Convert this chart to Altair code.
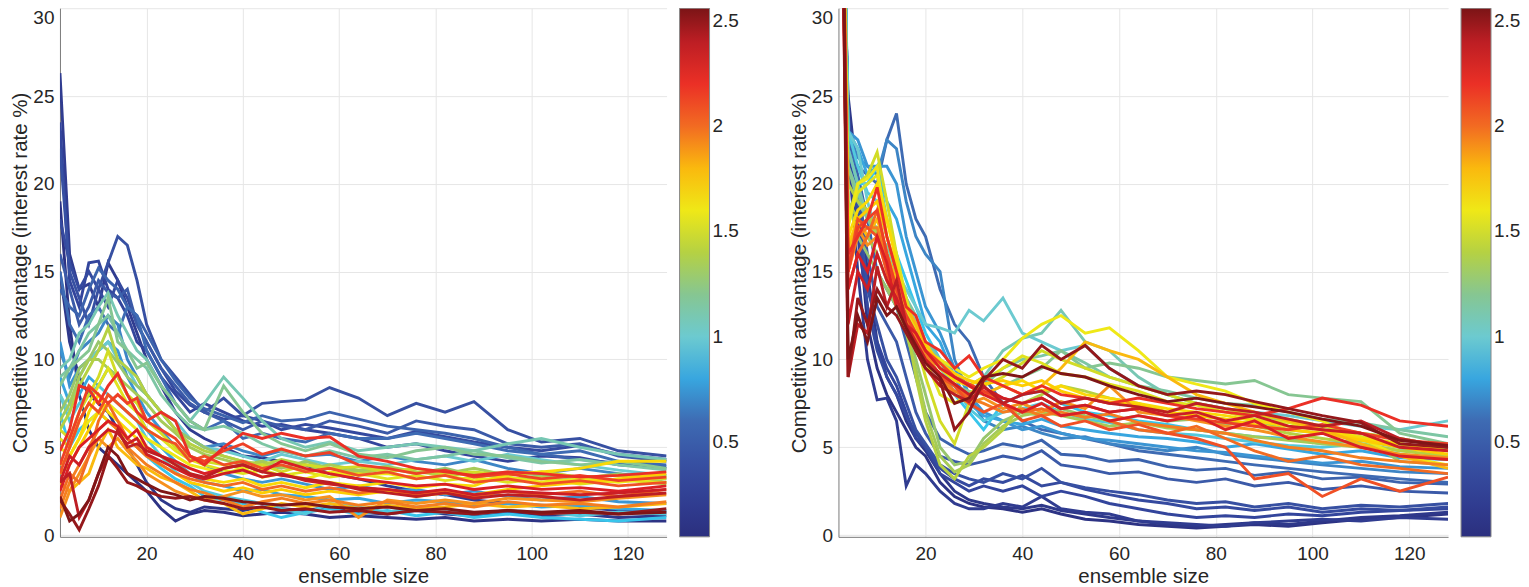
import altair as alt
import pandas as pd

FONT = "Liberation Sans, Arial, Helvetica, sans-serif"

X = [2, 4, 6, 8, 10, 12, 14, 16, 18, 20, 23, 26, 29, 32, 36, 40, 44, 48, 53, 58,
     64, 70, 76, 82, 88, 95, 102, 110, 118, 128]

# colour value of each line (colorbar quantity)
C_VALUES = [0.1, 0.2, 0.3, 0.4, 0.5, 0.6, 0.7, 0.8, 0.9, 1.0, 1.1, 1.2, 1.3,
            1.4, 1.5, 1.6, 1.7, 1.8, 1.9, 2.0, 2.1, 2.2, 2.3, 2.4, 2.5]
C_EXTRA = [0.15, 0.35, 0.55, 0.75, 0.95, 1.15, 1.35, 1.55, 1.75, 1.95, 2.15,
           2.35, 2.55]

LEFT_LINES = [
    [19, 12, 8, 6, 5, 4.5, 4, 3.5, 3, 2.5, 1.5, 0.8, 1.2, 1.4, 1.3, 1.1, 1.2, 1.3, 1.2, 1.0, 1.1, 1.0, 0.9, 1.0, 0.8, 0.9, 0.8, 0.9, 0.8, 0.8],
    [26.3, 16, 14, 14.3, 13, 15.5, 14.5, 13, 11.5, 10, 8.5, 7, 6, 5.5, 5, 4.5, 4.4, 4.2, 4, 3.5, 3.2, 2.8, 2.5, 2.3, 2.0, 1.8, 1.7, 1.6, 1.4, 1.3],
    [23.5, 14.5, 13, 15.5, 15.6, 14, 13.5, 12.5, 11, 10.5, 9, 8, 7, 7.5, 7, 6.5, 6.2, 6.3, 6, 5.8, 5.5, 5, 5.2, 4.8, 4.5, 4.2, 4.5, 4.4, 4.0, 3.8],
    [22, 15, 13.5, 12, 14, 15.5, 17, 16.5, 14.5, 12, 10, 9, 8, 7, 7.8, 6.8, 7.5, 7.6, 7.7, 8.4, 7.8, 6.8, 7.5, 7.0, 7.6, 6.0, 5.3, 5.5, 4.8, 4.5],
    [16, 14, 12, 13, 14.5, 13.8, 13.5, 14, 12, 11, 9.5, 8.5, 7.5, 7, 6.5, 6, 6.5, 6.2, 6, 6.5, 6.2, 5.8, 6.5, 6.2, 6, 5.2, 5, 5.2, 4.5, 4.2],
    [15, 12, 11, 12.5, 13, 12, 11.5, 13, 12.5, 10.5, 9, 7.5, 6.5, 6, 6.5, 5.5, 5.8, 5.5, 5.3, 5.8, 5.5, 5.5, 5.8, 5.5, 5.2, 4.8, 4.6, 4.8, 4.2, 4.0],
    [10.5, 9, 10.5, 11, 11.5, 12.5, 12, 10, 9, 8, 7, 6, 5.5, 5, 5.2, 4.8, 4.5, 4.8, 4.5, 4.6, 4.2, 4.5, 4.2, 4, 4.3, 3.8, 3.5, 3.8, 3.5, 3.2],
    [9, 7.5, 8, 9, 8.5, 9.5, 9, 8, 7, 6, 5, 4.2, 3.5, 3, 2.8, 2.5, 2.6, 2.3, 2.2, 2.0, 2.1, 1.8, 2.0, 1.9, 1.7, 1.8, 1.6, 1.7, 1.5, 1.4],
    [7, 5, 6, 6.5, 7, 6.5, 6, 5.5, 5, 4.5, 3.8, 3.2, 2.8, 2.2, 2, 1.8, 1.3, 1.0, 1.3, 1.5, 1.2, 1.4, 1.1, 1.3, 1.0, 1.2, 1.0, 0.9, 0.8, 1.0],
    [8, 7, 9, 10, 10.5, 11, 10, 9.5, 8.5, 8, 7, 6.5, 5.5, 5, 4.8, 4.5, 4.2, 4.6, 4.3, 4.0, 4.2, 4.0, 4.3, 4.5, 4.2, 4.6, 4.3, 4.0, 3.7, 3.4],
    [9.5, 10, 11.5, 12, 13, 13.8, 12.5, 11.5, 10.5, 10, 8.5, 7.5, 6.5, 7.5, 9, 7.8, 6.5, 5.5, 5, 5.3, 4.8, 5.0, 5.2, 5.0, 4.8, 5.2, 5.5, 5.0, 4.6, 4.3],
    [8.5, 9.5, 10, 10.5, 12, 13.5, 11, 10.5, 9.5, 9.8, 8.5, 7.5, 6.5, 6, 8.5, 7.0, 5.8, 5.2, 4.8, 5.2, 4.6, 4.4, 4.8, 5.0, 4.6, 4.5, 4.2, 4.0, 4.2, 3.8],
    [7, 8, 9.5, 10, 11, 10.5, 9.8, 9, 8.5, 8, 7, 6, 5.5, 5, 4.5, 4.2, 4, 3.8, 4.2, 3.8, 3.6, 3.8, 3.5, 3.8, 3.4, 3.6, 3.4, 3.2, 3.5, 3.0],
    [6, 7, 8.5, 9.5, 10.5, 11.8, 10, 9.5, 9, 8, 7, 6, 5.2, 4.8, 4.5, 4.2, 4.0, 4.3, 4.0, 3.8, 3.5, 3.8, 3.6, 3.4, 3.5, 3.2, 3.3, 3.0, 3.2, 2.9],
    [6, 5.5, 7, 8, 9, 10.5, 9, 8, 7.5, 6.5, 5.8, 5.0, 4.5, 4.2, 4.0, 3.8, 4.0, 3.6, 4.0, 3.8, 3.9, 3.6, 3.8, 3.5, 3.6, 3.4, 3.6, 3.3, 3.4, 3.2],
    [5, 4.5, 5.5, 6.5, 7, 7.5, 7, 6.5, 6, 5.5, 5, 4.5, 4, 3.8, 3.5, 3.8, 3.3, 3.5, 3.2, 3.6, 3.4, 3.5, 3.2, 3.4, 3.1, 3.3, 3.0, 3.2, 3.0, 3.3],
    [4, 4.5, 5.5, 7, 8, 7, 6.5, 6, 5.5, 5, 4.5, 4, 3.5, 3.2, 3, 3.2, 2.8, 3.0, 2.7, 3.0, 2.8, 3.0, 2.7, 2.9, 2.8, 3.5, 3.6, 3.8, 4.2, 4.2],
    [3, 2.5, 3, 3.5, 5, 6, 5, 4.5, 4, 3.8, 3.3, 3, 2.5, 2, 1.8, 1.2, 1.5, 1.8, 1.6, 1.8, 1.5, 1.7, 1.5, 1.6, 1.8, 1.6, 1.7, 1.5, 1.6, 1.8],
    [1.0, 2.5, 3.5, 4.5, 5.5, 5, 5.5, 4.8, 4.2, 3.5, 3, 2.5, 2.2, 2, 2.2, 2.5, 2.2, 2.3, 2.0, 2.2, 1.0, 2.0, 1.8, 2.0, 1.8, 2.1, 2.0, 1.9, 2.1, 2.3],
    [2, 3.5, 3, 4.5, 6.5, 7.5, 6.5, 5.5, 5, 4.5, 4, 3.5, 3.2, 3, 2.8, 3, 2.6, 2.8, 2.5, 2.7, 2.4, 2.6, 2.3, 2.5, 2.2, 2.5, 2.3, 2.5, 2.2, 2.6],
    [3.5, 5, 6.5, 7.5, 7, 8, 7.5, 7, 6.5, 6, 5.5, 5.2, 4.2, 4.5, 4.0, 4.2, 3.8, 4.0, 3.6, 3.8, 3.4, 3.6, 3.2, 3.4, 3.0, 3.2, 2.9, 3.1, 2.8, 3.0],
    [4.8, 6, 8.5, 8.3, 7.5, 8.5, 9.2, 8, 7, 6.5, 7, 6.5, 4.5, 4.0, 5.0, 5.8, 5.5, 5.8, 5.5, 5.6, 4.5, 4.2, 3.8, 3.6, 3.4, 3.6, 3.5, 3.3, 3.4, 3.6],
    [2.5, 4, 5, 5.5, 6, 6.5, 6.2, 5.5, 6, 5, 4.5, 4.2, 3.8, 3.5, 3.8, 4.0, 3.6, 4.2, 3.8, 3.5, 3.2, 3.0, 2.8, 2.9, 2.6, 2.8, 2.6, 2.7, 2.5, 2.8],
    [3, 3.5, 1.0, 2.0, 3.5, 4.5, 6, 5, 5.2, 4.8, 4.5, 4.0, 3.5, 3.3, 3.8, 4.0, 3.6, 3.4, 3.2, 3.0, 2.6, 2.4, 2.2, 2.4, 2.1, 2.3, 2.2, 2.0, 2.2, 2.4],
    [2, 1.2, 0.3, 1.5, 2.8, 4.5, 3.8, 3, 2.8, 2.5, 2.2, 2.1, 2.2, 2.0, 1.8, 1.5, 1.6, 1.4, 1.5, 1.3, 1.4, 1.2, 1.4, 1.3, 1.2, 1.4, 1.2, 1.3, 1.2, 1.5],
]

LEFT_EXTRA = [
    [15, 11, 9, 8, 7.5, 7, 6, 5, 4, 3, 2, 1.5, 1.3, 1.6, 1.5, 1.4, 1.6, 1.5, 1.4, 1.6, 1.3, 1.2, 1.4, 1.2, 1.1, 1.3, 1.1, 1.2, 1.0, 1.1],
    [18, 15.5, 14, 15, 14, 13, 14.5, 13.5, 12, 11, 9.5, 8.2, 7.4, 7.0, 6.6, 6.8, 6.5, 6.0, 6.3, 6.1, 5.8, 5.5, 5.9, 5.6, 5.3, 5.0, 4.8, 5.1, 4.6, 4.3],
    [14, 13, 12.5, 14, 15.2, 14.5, 14, 13, 12.5, 11.5, 10, 8.8, 7.8, 7.2, 6.8, 6.4, 6.8, 6.5, 6.6, 7.0, 6.6, 6.2, 6.0, 5.8, 5.5, 5.0, 4.6, 4.3, 4.1, 3.9],
    [11, 8.5, 9.5, 10, 10.5, 11, 10.5, 9, 8, 7, 6, 5, 4.5, 4, 3.5, 3.2, 3.0, 3.2, 2.9, 2.6, 2.8, 2.5, 2.6, 2.3, 2.5, 2.2, 2.0, 2.2, 1.9, 1.8],
    [8, 6.5, 7.5, 8, 8.5, 8, 7.5, 7, 6.5, 5.5, 4.5, 3.6, 3.0, 2.5, 2.2, 2.0, 1.8, 1.5, 1.2, 1.8, 1.6, 1.3, 1.6, 1.5, 1.2, 1.4, 1.3, 1.1, 1.3, 1.2],
    [9, 9.5, 10.5, 11.5, 12, 12.5, 11.5, 10.5, 10, 9.5, 8, 7, 6.2, 6.0, 6.2, 5.8, 5.2, 4.8, 4.5, 4.8, 4.4, 4.6, 4.3, 4.5, 4.8, 4.4, 4.1, 4.3, 4.0, 3.7],
    [6.5, 7.5, 9, 10, 10, 9.5, 9, 8.5, 8, 7.5, 6.5, 5.8, 5.0, 4.6, 4.3, 4.0, 4.2, 3.9, 3.7, 4.0, 3.7, 3.9, 3.6, 3.5, 3.8, 3.4, 3.6, 3.3, 3.1, 3.4],
    [5.5, 5, 6.5, 7.5, 8.5, 9.5, 8.5, 7.5, 7, 6, 5.5, 4.8, 4.3, 4.0, 3.7, 3.5, 3.7, 3.4, 3.6, 3.3, 3.5, 3.2, 3.4, 3.1, 3.3, 3.0, 3.2, 2.9, 3.1, 3.0],
    [3.5, 4, 5, 6, 7, 6.5, 6, 5.5, 5, 4.5, 4, 3.5, 3.0, 2.8, 2.5, 2.7, 2.4, 2.6, 2.3, 2.5, 2.3, 2.5, 2.2, 2.4, 2.3, 2.6, 2.8, 3.0, 3.2, 3.5],
    [1.5, 3, 4, 5, 6, 6.5, 6, 5, 4.5, 4, 3.5, 3, 2.6, 2.4, 2.0, 1.6, 1.9, 2.1, 1.8, 2.0, 1.7, 1.9, 1.6, 1.8, 1.6, 1.9, 1.7, 1.8, 1.6, 1.9],
    [4, 5.5, 7, 8.5, 8, 7.5, 8, 7.5, 7.8, 6.5, 6, 5.5, 4.5, 4.2, 4.8, 5.2, 4.6, 4.9, 4.5, 4.7, 4.0, 3.8, 3.5, 3.7, 3.3, 3.5, 3.2, 3.4, 3.1, 3.3],
    [3, 4.5, 4, 5, 5.5, 6, 5.8, 5.2, 5.5, 4.6, 4.2, 3.8, 3.4, 3.2, 3.5, 3.7, 3.3, 3.5, 3.1, 2.9, 2.7, 2.6, 2.4, 2.6, 2.3, 2.5, 2.4, 2.3, 2.4, 2.6],
    [2.2, 0.8, 1.2, 2.0, 3.5, 5.0, 4.5, 3.5, 3.2, 2.9, 2.5, 2.3, 2.0, 2.2, 2.1, 1.9, 1.8, 1.7, 1.8, 1.6, 1.5, 1.6, 1.4, 1.5, 1.3, 1.4, 1.3, 1.4, 1.2, 1.3],
]

RIGHT_LINES = [
    [40, 24.5, 18, 12, 9.5, 8, 7, 6, 5, 4.5, 3, 2.2, 1.8, 1.6, 1.5, 1.3, 1.5, 1.2, 0.9, 0.8, 0.6, 0.5, 0.4, 0.5, 0.6, 0.5, 0.7, 0.9, 1.0, 1.2],
    [45, 22, 15, 10, 7.7, 7.8, 6.5, 2.8, 4, 3.5, 2.5, 1.8, 1.5, 1.5, 1.8, 1.6, 2.2, 1.5, 1.3, 1.2, 0.8, 0.7, 0.6, 0.5, 0.7, 0.8, 0.9, 0.8, 1.0, 0.9],
    [50, 23, 17, 13, 11, 9.5, 8.5, 7, 5.5, 5, 3.5, 3, 2.5, 2.8, 2.5, 2.8, 2.2, 2.5, 2.2, 1.8, 1.5, 1.2, 1.0, 1.1, 1.0, 1.2, 1.1, 1.3, 1.4, 1.5],
    [45, 24, 19, 14, 12, 10, 9, 7.5, 6, 5.2, 4, 3.5, 3.2, 3, 3.5, 3.2, 3.8, 3.0, 2.7, 2.5, 2.3, 2.0, 1.8, 1.9, 1.6, 1.8, 1.5, 1.7, 1.6, 1.8],
    [50, 23, 20, 16, 13, 12, 11, 9, 7, 5.8, 4.5, 4.2, 4.0, 4.2, 4.5, 4.3, 4.8, 4.0, 3.8, 3.5, 3.6, 3.2, 3.0, 3.2, 2.8, 3.0, 2.6, 2.8, 2.5, 2.4],
    [45, 22, 21, 20.5, 20, 22.5, 24, 20, 18, 17, 14, 12, 11, 9, 7.5, 6.5, 6.0, 5.8, 5.5, 5.2, 4.8, 4.6, 4.4, 4.2, 4.0, 3.8, 3.6, 3.4, 3.2, 3.0],
    [50, 23, 21.5, 21, 20.5, 22.5, 22, 19, 17, 16, 15, 10, 8, 6.5, 6, 6.2, 5.8, 5.5, 5.6, 5.2, 5.0, 4.8, 5.0, 4.6, 4.4, 4.2, 4.0, 3.8, 3.6, 3.5],
    [55, 23, 22, 20.5, 21, 19, 18, 16, 14, 12, 11, 9, 7.5, 6.8, 6.5, 6.3, 6.6, 6.2, 6.0, 5.8, 5.6, 5.5, 5.3, 5.0, 5.2, 4.9, 4.6, 4.8, 4.4, 4.3],
    [55, 22, 20, 20, 21, 18, 16, 14.5, 13, 11.5, 10, 8, 7, 6, 7.5, 8, 8.2, 7.5, 7.0, 6.8, 6.5, 6.3, 6.0, 5.8, 5.6, 5.5, 5.2, 5.4, 5.0, 5.2],
    [50, 23, 22, 19, 17, 16, 15, 14, 13, 12, 11.8, 11.5, 12.8, 12.2, 13.5, 11.5, 11.0, 10.5, 10.8, 9.5, 8.5, 8.0, 7.5, 7.2, 7.0, 6.8, 6.5, 6.2, 6.0, 6.5],
    [55, 22, 20, 18, 17, 16, 15, 13.5, 12, 11, 10, 9, 8.5, 9, 10.5, 11.2, 11.5, 12.8, 11.0, 10.5, 9.0, 8.0, 7.5, 7.2, 6.8, 6.5, 6.2, 5.8, 5.5, 5.0],
    [50, 21, 19, 18, 17.5, 16, 14.5, 13, 12, 10.5, 9, 8.5, 8.2, 8.0, 8.5, 9.0, 9.5, 10.5, 9.5, 9.8, 9.5, 9.0, 8.8, 8.6, 8.8, 8.0, 7.8, 7.6, 5.8, 5.2],
    [45, 19, 17, 16, 15, 14, 13, 12, 10, 8, 5, 4, 4.2, 5.5, 6.5, 7.0, 6.8, 7.2, 6.8, 6.5, 6.8, 6.5, 6.6, 6.3, 6.5, 6.0, 5.8, 5.6, 4.2, 4.0],
    [55, 20, 19, 18.5, 17, 15.5, 14, 12, 9, 6.5, 4, 3.2, 4.5, 5.0, 6.0, 7.5, 8.0, 8.5, 8.2, 7.8, 7.5, 7.0, 6.8, 6.6, 6.2, 5.8, 5.5, 5.2, 4.8, 4.5],
    [50, 18, 20, 20.5, 21.8, 19, 16, 13, 11, 9, 6.5, 5.2, 7.5, 8.5, 9.0, 9.8, 10.5, 10.0, 9.5, 9.0, 8.5, 8.0, 7.5, 7.2, 6.8, 6.6, 6.2, 5.8, 5.5, 5.0],
    [55, 17.5, 20, 20.3, 21, 17, 15, 12, 11, 10.5, 10.0, 9.5, 9.0, 9.5, 10.0, 11.2, 12.0, 12.5, 11.5, 11.8, 10.5, 9.0, 8.6, 8.2, 7.5, 7.0, 6.5, 5.5, 4.5, 4.0],
    [50, 17, 18.5, 19, 20, 18, 15.5, 13, 12, 11, 9.5, 8.8, 8.5, 9.0, 8.5, 8.8, 8.2, 8.5, 8.0, 7.8, 7.5, 7.2, 7.0, 6.8, 6.5, 6.2, 6.0, 5.5, 5.2, 4.8],
    [55, 16, 18, 17, 18, 16, 14.5, 13, 12, 10.5, 9.5, 9.0, 8.5, 8.0, 8.5, 8.0, 8.5, 9.5, 11.0, 10.5, 10.0, 9.0, 8.0, 7.5, 7.0, 6.5, 6.0, 5.2, 4.5, 3.8],
    [50, 15, 17.5, 16.5, 17, 15, 13.5, 12.5, 11.5, 10.5, 9.0, 8.0, 7.5, 7.8, 7.2, 7.5, 7.0, 7.6, 7.2, 8.5, 7.0, 6.8, 6.5, 6.2, 6.0, 5.6, 5.3, 5.0, 4.6, 4.4],
    [55, 14, 16, 17, 18.5, 16, 14, 12, 11, 10, 9.2, 8.5, 7.8, 8.2, 7.5, 7.0, 7.2, 6.8, 7.0, 6.5, 6.0, 5.8, 6.2, 5.5, 4.8, 4.2, 4.5, 4.0, 3.8, 3.5],
    [50, 15, 18, 17.5, 17, 15, 13, 12, 11, 10, 9, 8.5, 7.5, 7.0, 7.5, 6.5, 6.8, 6.2, 6.5, 6.0, 6.3, 5.8, 5.5, 5.0, 3.2, 3.5, 2.2, 3.2, 2.5, 3.3],
    [55, 16, 17, 18, 19.8, 17, 15, 13, 12.5, 11, 10.5, 9.5, 10.2, 9.0, 8.5, 8.0, 8.5, 8.0, 7.8, 7.5, 7.8, 7.5, 7.2, 7.0, 6.8, 7.2, 7.8, 7.4, 6.5, 6.2],
    [50, 14, 16, 15, 17, 15.5, 13, 12, 11.5, 10.5, 9.5, 9.0, 8.5, 8.0, 7.5, 7.0, 7.5, 6.8, 7.0, 6.5, 6.8, 6.5, 6.8, 6.0, 6.5, 5.5, 5.8, 5.0, 4.5, 4.3],
    [55, 9, 12, 11.5, 15.3, 13, 14.5, 12, 10.5, 9.5, 8.5, 8.0, 7.6, 8.5, 7.5, 8.0, 8.2, 7.5, 7.8, 7.5, 7.3, 7.0, 7.5, 7.2, 7.0, 6.6, 6.2, 6.5, 5.5, 5.0],
    [60, 9, 13.5, 12, 14, 13, 12.5, 11.5, 10.5, 9.5, 8.8, 6.0, 7.0, 8.8, 10.0, 9.5, 10.8, 10.0, 10.8, 9.5, 8.5, 8.0, 8.2, 8.0, 7.6, 7.2, 6.8, 6.4, 5.2, 5.0],
]

RIGHT_EXTRA = [
    [42, 25, 20, 15, 11, 9, 8, 6.5, 5.5, 4.8, 3.5, 2.5, 2.0, 1.8, 1.6, 1.5, 1.7, 1.4, 1.2, 1.0, 0.8, 0.6, 0.5, 0.6, 0.7, 0.6, 0.8, 1.0, 1.1, 1.3],
    [48, 24, 18, 13, 10.5, 9, 8, 6.8, 5.8, 5.0, 3.8, 3.2, 2.8, 3.2, 3.0, 3.4, 2.8, 3.0, 2.6, 2.3, 2.0, 1.8, 1.5, 1.6, 1.4, 1.6, 1.3, 1.5, 1.4, 1.6],
    [50, 23, 20.5, 18, 15, 14, 13, 11, 9, 7, 5.5, 5.0, 4.6, 4.8, 5.2, 5.0, 5.4, 4.6, 4.5, 4.2, 4.3, 3.9, 3.7, 3.8, 3.4, 3.6, 3.2, 3.3, 3.0, 2.9],
    [52, 23, 22.5, 21, 21, 21, 20, 17, 15, 13, 11.5, 9.5, 8, 7, 6.5, 6.0, 6.2, 5.8, 5.5, 5.4, 5.2, 5.0, 4.8, 4.7, 4.5, 4.3, 4.1, 4.2, 3.9, 3.8],
    [52, 23, 21, 19.5, 19, 17, 15, 13.5, 12, 11, 9.5, 8.5, 7.2, 6.5, 7.0, 7.2, 7.5, 7.0, 6.6, 6.4, 6.0, 5.8, 5.7, 5.5, 5.3, 5.1, 5.0, 5.2, 4.8, 5.0],
    [52, 21, 19.5, 18, 17, 16.5, 15, 13.5, 12.5, 11, 10, 9.2, 8.8, 8.5, 9.5, 10.0, 10.2, 10.5, 9.8, 9.0, 8.5, 8.2, 7.8, 7.5, 7.4, 7.0, 6.6, 6.4, 6.0, 5.6],
    [50, 19, 18, 17, 16, 14.5, 13, 11.5, 9.5, 7, 4.5, 3.6, 4.0, 5.2, 6.2, 6.8, 7.0, 6.8, 6.5, 6.2, 6.4, 6.1, 6.0, 5.8, 5.6, 5.4, 5.2, 5.0, 4.6, 4.3],
    [52, 18, 19.5, 20, 20.5, 18, 16, 13.5, 11.5, 10, 8, 7.5, 8.0, 8.8, 9.5, 10.2, 9.8, 9.2, 9.0, 8.6, 8.2, 7.6, 7.4, 7.0, 6.6, 6.4, 6.0, 5.6, 5.2, 4.8],
    [52, 16.5, 18, 18.5, 19, 17, 15, 13, 12, 10.8, 9.8, 9.2, 8.8, 8.6, 8.8, 8.5, 8.8, 8.2, 7.8, 7.6, 7.4, 7.0, 6.8, 6.6, 6.3, 6.0, 5.8, 5.4, 5.0, 4.6],
    [52, 15, 17, 17.5, 17.5, 15.5, 13.5, 12.2, 11.2, 10.2, 9.0, 8.2, 7.8, 7.5, 7.0, 7.2, 6.8, 7.0, 6.7, 6.9, 6.4, 6.2, 6.0, 5.8, 5.4, 5.0, 4.8, 4.4, 4.2, 4.0],
    [52, 15, 17.5, 18, 18.5, 16, 14, 12.5, 11.5, 10.5, 9.8, 9.0, 8.6, 8.2, 7.8, 7.5, 7.8, 7.2, 7.4, 7.0, 7.2, 6.8, 6.6, 6.4, 6.2, 6.0, 6.3, 5.8, 5.4, 5.2],
    [52, 12, 15, 14, 16, 14.5, 13.5, 12, 11, 10, 9.2, 8.6, 8.0, 8.4, 7.8, 7.5, 7.8, 7.2, 7.4, 7.0, 7.2, 6.8, 7.0, 6.5, 6.8, 6.2, 6.0, 5.8, 5.0, 4.8],
    [58, 10, 12.5, 11, 13.5, 12.5, 13, 11.8, 10.8, 9.8, 9.0, 7.5, 7.8, 9.0, 9.2, 9.0, 9.6, 9.2, 9.0, 8.5, 8.0, 7.6, 7.8, 7.5, 7.3, 7.0, 6.6, 6.2, 5.4, 5.1],
]

# colormap of the colorbar (value stops and colours)
CMAP_STOPS = [0.05, 0.3, 0.5, 0.65, 0.78, 0.88, 1.0, 1.15, 1.3, 1.45, 1.62,
              1.74, 1.86, 2.0, 2.12, 2.25, 2.4, 2.56]
CMAP_COLORS = ["#2b2f7e", "#33459c", "#3b5aa8", "#3f74b8", "#3a9fdb", "#2ec4f0",
               "#6ccad0", "#7dc6a4", "#98c66d", "#c3d62e", "#f5ea14", "#fdd100",
               "#f7a01c", "#f26b22", "#ef4a26", "#e91f26", "#bd1e24", "#7b1416"]

X_TICKS = [20, 40, 60, 80, 100, 120]
Y_TICKS = [0, 5, 10, 15, 20, 25, 30]
CBAR_TICKS = [0.5, 1, 1.5, 2, 2.5]


def long_df(lines, extra):
    pairs = list(zip(C_VALUES, lines)) + list(zip(C_EXTRA, extra))
    pairs.sort(key=lambda p: p[0])
    rows = []
    for i, (c, ys) in enumerate(pairs):
        for x, y in zip(X, ys):
            rows.append({"line": f"L{i:02d}", "c": c, "x": x, "y": y})
    return pd.DataFrame(rows)


def panel(lines, extra, width):
    return alt.Chart(long_df(lines, extra)).mark_line(strokeWidth=2.9, clip=True).encode(
        x=alt.X("x:Q",
                scale=alt.Scale(domain=[2, 128], nice=False, zero=False),
                axis=alt.Axis(values=X_TICKS, title="ensemble size",
                              labelPadding=8, titlePadding=3)),
        y=alt.Y("y:Q",
                scale=alt.Scale(domain=[-0.1, 30], nice=False, zero=False),
                axis=alt.Axis(values=Y_TICKS,
                              title="Competitive advantage (interest rate %)",
                              labelPadding=6, titlePadding=2, labelFlush=1)),
        color=alt.Color("c:Q",
                        scale=alt.Scale(domain=CMAP_STOPS, range=CMAP_COLORS,
                                        interpolate="rgb"),
                        legend=alt.Legend(title=None, orient="right", offset=13,
                                          direction="vertical",
                                          gradientLength=529, gradientThickness=30,
                                          values=CBAR_TICKS, format="~g",
                                          labelFontSize=19, labelFont=FONT,
                                          labelColor="#262626", labelOffset=3,
                                          gradientStrokeColor="#8a8a8a",
                                          gradientStrokeWidth=1, padding=0,
                                          labelOverlap=False)),
        detail="line:N",
    ).properties(width=width, height=529)


left = panel(LEFT_LINES, LEFT_EXTRA, 607)
right = panel(RIGHT_LINES, RIGHT_EXTRA, 610)

chart = alt.hconcat(left, right, spacing=49).resolve_scale(
    color="independent"
).properties(
    padding={"left": 2, "top": 0, "right": 0, "bottom": 0}
).configure_view(
    stroke=None
).configure_axis(
    grid=True, gridColor="#e6e6e6", gridWidth=1,
    domainColor="#7a7a7a", domainWidth=1, ticks=False,
    labelFont=FONT, titleFont=FONT, labelFontSize=19, titleFontSize=20.5,
    labelColor="#262626", titleColor="#262626", titleFontWeight="normal",
)

chart.save("out.html", embed_options={"renderer": "svg", "actions": False})
